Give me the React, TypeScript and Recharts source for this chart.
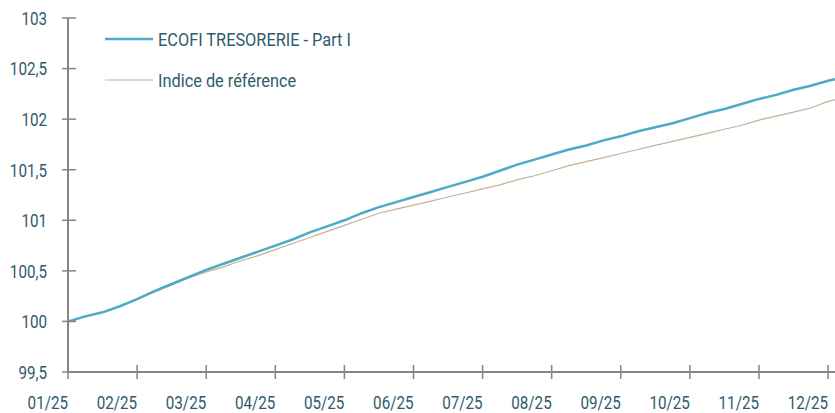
import React from "react";
import { LineChart, Line, XAxis, YAxis, Legend } from "recharts";

const monthLabels = ["01/25", "02/25", "03/25", "04/25", "05/25", "06/25", "07/25", "08/25", "09/25", "10/25", "11/25", "12/25"];
const yTicks = [99.5, 100, 100.5, 101, 101.5, 102, 102.5, 103];

// weekly-ish observations (quarter-month steps), last one slightly into December
const fundValues = [
  100.0, 100.05, 100.09, 100.15, 100.22, 100.3, 100.37, 100.44, 100.51, 100.57, 100.63, 100.69,
  100.75, 100.81, 100.88, 100.94, 101.0, 101.07, 101.13, 101.18, 101.23, 101.28, 101.33, 101.38,
  101.43, 101.49, 101.55, 101.6, 101.65, 101.7, 101.74, 101.79, 101.83, 101.88, 101.92, 101.96,
  102.01, 102.06, 102.1, 102.15, 102.2, 102.24, 102.29, 102.33, 102.38, 102.395,
];
const refValues = [
  100.0, 100.05, 100.09, 100.15, 100.22, 100.29, 100.36, 100.43, 100.49, 100.54, 100.6, 100.65,
  100.71, 100.77, 100.83, 100.89, 100.95, 101.01, 101.07, 101.11, 101.15, 101.19, 101.23, 101.27,
  101.31, 101.35, 101.4, 101.44, 101.49, 101.54, 101.58, 101.62, 101.66, 101.7, 101.74, 101.78,
  101.82, 101.86, 101.9, 101.94, 101.99, 102.03, 102.07, 102.11, 102.175, 102.19,
];
const END_POS = 11.1;

const data = fundValues.map((v, i) => ({
  t: i === fundValues.length - 1 ? END_POS : i * 0.25,
  fund: v,
  ref: refValues[i],
}));

const FONT = "Roboto, 'Noto Sans', sans-serif";
const TEXT = "#2f5b6c";
const AXIS = "#858585";
const FUND_COLOR = "#4eaac5";
const REF_COLOR = "#c9ae96";
const SX = 0.8;

const X_TICK_SIZE = 7;
const X_TICK_MARGIN = 4;
const Y_TICK_SIZE = 6;
const Y_TICK_MARGIN = 15;

const CondText = ({ x, y, anchor, size, scale, children }: any) => (
  <text
    transform={`translate(${x},${y}) scale(${scale},1)`}
    x={0}
    y={0}
    textAnchor={anchor}
    fill={TEXT}
    fontFamily={FONT}
    fontSize={size}
  >
    {children}
  </text>
);

const XTick = (props: any) => {
  const { x, y, payload } = props;
  const axisY = y - X_TICK_SIZE - X_TICK_MARGIN;
  return (
    <g>
      <line x1={x} x2={x} y1={axisY - 7} y2={axisY + 7} stroke={AXIS} strokeWidth={1.5} />
      <CondText x={x} y={axisY + 37} anchor="end" size={19} scale={SX}>
        {monthLabels[payload.value]}
      </CondText>
    </g>
  );
};

const YTick = (props: any) => {
  const { x, y, payload } = props;
  const axisX = x + Y_TICK_SIZE + Y_TICK_MARGIN;
  return (
    <g>
      <line x1={axisX - 6} x2={axisX + 8} y1={y} y2={y} stroke={AXIS} strokeWidth={1.5} />
      <CondText x={x} y={y + 6.8} anchor="end" size={19} scale={SX}>
        {String(payload.value).replace(".", ",")}
      </CondText>
    </g>
  );
};

const LegendContent = () => (
  <svg width={300} height={100}>
    <line x1={0} x2={48} y1={21} y2={21} stroke={FUND_COLOR} strokeWidth={2.5} />
    <CondText x={53} y={27.5} anchor="start" size={19} scale={0.86}>ECOFI TRESORERIE - Part I</CondText>
    <line x1={0} x2={48} y1={62} y2={62} stroke={REF_COLOR} strokeWidth={1.2} />
    <CondText x={53} y={69} anchor="start" size={19} scale={0.86}>Indice de référence</CondText>
  </svg>
);

export default function App() {
  return (
    <div style={{ position: "absolute", left: 0, top: 0, width: 835, height: 413, background: "#fff" }}>
      <LineChart width={835} height={413} data={data} margin={{ top: 18, right: 0, left: 8, bottom: 0 }}>
        <XAxis
          dataKey="t"
          type="number"
          domain={[0, END_POS]}
          ticks={monthLabels.map((_, i) => i)}
          interval={0}
          height={41}
          axisLine={{ stroke: AXIS, strokeWidth: 2 }}
          tickLine={false}
          tickSize={X_TICK_SIZE}
          tickMargin={X_TICK_MARGIN}
          tick={<XTick />}
          allowDataOverflow
        />
        <YAxis
          type="number"
          domain={[99.5, 103]}
          ticks={yTicks}
          interval={0}
          width={60}
          axisLine={{ stroke: AXIS, strokeWidth: 2 }}
          tickLine={false}
          tickSize={Y_TICK_SIZE}
          tickMargin={Y_TICK_MARGIN}
          tick={<YTick />}
        />
        <Legend
          layout="vertical"
          align="center"
          verticalAlign="middle"
          content={<LegendContent />}
          wrapperStyle={{ left: 105, top: 18, width: 300, height: 100 }}
        />
        <Line dataKey="ref" stroke={REF_COLOR} strokeWidth={1.2} dot={false} isAnimationActive={false} />
        <Line dataKey="fund" stroke={FUND_COLOR} strokeWidth={2.5} dot={false} isAnimationActive={false} />
      </LineChart>
    </div>
  );
}
